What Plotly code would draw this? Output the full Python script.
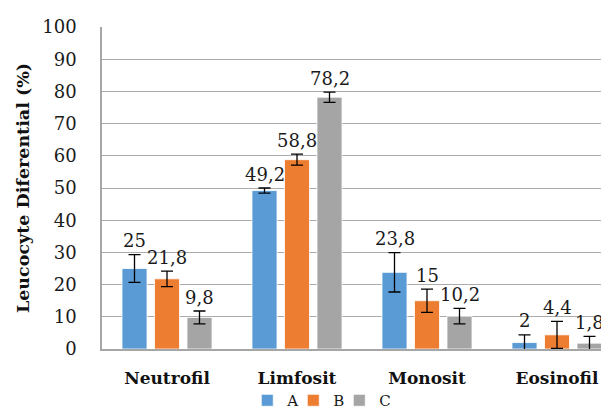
import plotly.graph_objects as go

categories = ["Neutrofil", "Limfosit", "Monosit", "Eosinofil"]
series_names = ["A", "B", "C"]
values_A = [25, 49.2, 23.8, 2]
values_B = [21.8, 58.8, 15, 4.4]
values_C = [9.8, 78.2, 10.2, 1.8]
errors_A = [4.3, 0.8, 6.1, 2.4]
errors_B = [2.4, 1.7, 3.6, 4.2]
errors_C = [2.0, 1.6, 2.4, 2.1]
y_ticks = [0, 10, 20, 30, 40, 50, 60, 70, 80, 90, 100]

colors = ["#5B9BD5", "#ED7D31", "#A5A5A5"]
FONT = "DejaVu Serif"

fig = go.Figure()
all_vals = [values_A, values_B, values_C]
all_errs = [errors_A, errors_B, errors_C]
for name, vals, errs, col in zip(series_names, all_vals, all_errs, colors):
    fig.add_trace(go.Bar(
        name=name, x=categories, y=vals, marker=dict(color=col, line=dict(color="white", width=0.8)),
        error_y=dict(type="data", array=errs, visible=True, color="black", thickness=1.3, width=6),
    ))
# blank legend entry that only widens the legend box so the last label is not clipped
fig.add_trace(go.Scatter(name=" ", x=categories, y=[None] * len(categories), mode="markers",
                         marker=dict(color="rgba(0,0,0,0)", size=1), hoverinfo="skip"))

# data labels (above error bars)
ngroups = len(series_names)
bargap = 0.25
slot = (1 - bargap) / ngroups
for i, (vals, errs) in enumerate(zip(all_vals, all_errs)):
    for j, (v, e) in enumerate(zip(vals, errs)):
        xpos = j - (1 - bargap) / 2 + slot * (i + 0.5)
        fig.add_annotation(
            x=xpos, y=v + e, xref="x", yref="y", text=str(v).replace(".", ","),
            showarrow=False, yshift=14, yanchor="middle",
            font=dict(family=FONT, size=18, color="#1a1a1a"),
        )

# the page body has an 8px default margin: figure offset compensated in margins
fig.update_layout(
    width=609, height=420,
    margin=dict(l=94, r=8, t=13, b=79),
    paper_bgcolor="white", plot_bgcolor="white",
    barmode="group", bargap=bargap, bargroupgap=0.23,
    showlegend=True,
    legend=dict(orientation="h", x=0.468, xanchor="center", y=-0.16, yanchor="middle",
                font=dict(family=FONT, size=15, color="#1a1a1a"), itemwidth=30,
                entrywidth=1, entrywidthmode="pixels",
                bgcolor="rgba(0,0,0,0)"),
    font=dict(family=FONT, color="#1a1a1a"),
)
fig.update_xaxes(
    type="category", range=[-0.5, -0.5 + 507 / 130],
    showline=True, linecolor="#A6A6A6", linewidth=1.5,
    showgrid=False, ticks="", ticklabelstandoff=13,
    tickfont=dict(family=FONT, size=17, color="#111111", weight="bold"),
)
fig.update_yaxes(
    range=[0, 100], tickvals=y_ticks, ticktext=[str(t) for t in y_ticks],
    showline=True, linecolor="#A6A6A6", linewidth=1.5,
    showgrid=True, gridcolor="#ABABAB", gridwidth=1.3, zeroline=False,
    ticks="", ticklabelstandoff=20,
    tickfont=dict(family=FONT, size=18, color="#1a1a1a"),
    title=dict(text="Leucocyte Diferential (%)", standoff=8,
               font=dict(family=FONT, size=17.5, color="#111111", weight="bold")),
)

fig.write_html("out.html")
